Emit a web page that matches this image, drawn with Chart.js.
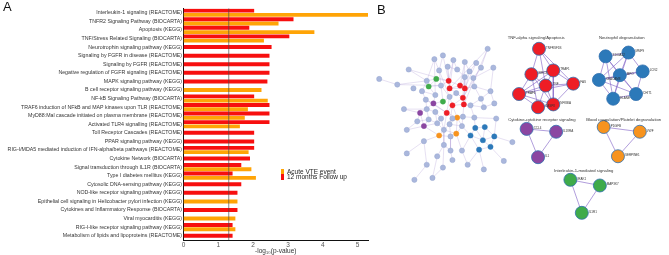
<!DOCTYPE html>
<html>
<head>
<meta charset="utf-8">
<script src="https://cdn.jsdelivr.net/npm/chart.js@4.4.0/dist/chart.umd.min.js"></script>
<style>
  body { margin:0; width:669px; height:255px; position:relative; background:#fff; overflow:hidden;
         font-family:"Liberation Sans", Arial, sans-serif; }
  #chartA { position:absolute; left:0; top:0; }
  #chartB { position:absolute; left:370px; top:0; }
  .panel { position:absolute; font-size:13px; color:#111; line-height:13px; }
  #legend { position:absolute; left:281px; top:169px; font-size:6.5px; color:#222; line-height:5.3px; }
  #legend div { white-space:nowrap; }
  #legend span { display:inline-block; width:3px; height:5.3px; margin-right:3px; vertical-align:top; }
</style>
</head>
<body>
<canvas id="chartA" width="370" height="255"></canvas>
<canvas id="chartB" width="299" height="255"></canvas>
<div class="panel" style="left:3px;top:0px">A</div>
<div class="panel" style="left:377px;top:3px">B</div>
<div id="legend"></div>
<script>
// ---- panel A: enrichment bars ----
var pathways = [
  "Interleukin-1 signaling (REACTOME)",
  "TNFR2 Signaling Pathway (BIOCARTA)",
  "Apoptosis (KEGG)",
  "TNF/Stress Related Signaling (BIOCARTA)",
  "Neurotrophin signaling pathway (KEGG)",
  "Signaling by FGFR in disease (REACTOME)",
  "Signaling by FGFR (REACTOME)",
  "Negative regulation of FGFR signaling (REACTOME)",
  "MAPK signaling pathway (KEGG)",
  "B cell receptor signaling pathway (KEGG)",
  "NF-kB Signaling Pathway (BIOCARTA)",
  "TRAF6 induction of NFkB and MAP kinases upon TLR (REACTOME)",
  "MyD88:Mal cascade initiated on plasma membrane (REACTOME)",
  "Activated TLR4 signalling (REACTOME)",
  "Toll Receptor Cascades (REACTOME)",
  "PPAR signaling pathway (KEGG)",
  "RIG-I/MDA5 mediated induction of IFN-alpha/beta pathways (REACTOME)",
  "Cytokine Network (BIOCARTA)",
  "Signal transduction through IL1R (BIOCARTA)",
  "Type I diabetes mellitus (KEGG)",
  "Cytosolic DNA-sensing pathway (KEGG)",
  "NOD-like receptor signaling pathway (KEGG)",
  "Epithelial cell signaling in Helicobacter pylori infection (KEGG)",
  "Cytokines and Inflammatory Response (BIOCARTA)",
  "Viral myocarditis (KEGG)",
  "RIG-I-like receptor signaling pathway (KEGG)",
  "Metabolism of lipids and lipoproteins (REACTOME)"
];
var followUp = [2.03,3.16,1.89,3.04,2.53,2.47,2.47,2.47,2.41,null,2.03,2.47,2.47,2.47,2.03,2.03,2.03,1.91,1.66,1.41,1.66,1.55,null,1.55,null,1.41,1.41];
var acute    = [5.3,2.73,3.76,2.31,null,null,null,null,null,2.24,2.42,1.85,1.76,1.62,null,null,1.87,null,1.95,2.08,null,null,1.55,null,1.49,1.49,null];
var xTicks = [0,1,2,3,4,5];
var threshold = 1.3;

var RED = "#f70f0f", ORANGE = "#ffa406";

var thresholdLine = {
  id: "thresholdLine",
  afterDatasetsDraw: function(chart) {
    var ctx = chart.ctx, a = chart.chartArea;
    var x = chart.scales.x.getPixelForValue(threshold);
    ctx.save();
    ctx.strokeStyle = "rgba(70,70,70,0.65)";
    ctx.lineWidth = 1;
    ctx.beginPath();
    ctx.moveTo(x, a.top); ctx.lineTo(x, a.bottom);
    ctx.stroke();
    ctx.restore();
  }
};

var chartA = new Chart(document.getElementById("chartA"), {
  type: "bar",
  data: {
    labels: pathways,
    datasets: [
      { label: "12 months Follow up", data: followUp, backgroundColor: RED, skipNull: true },
      { label: "Acute VTE event", data: acute, backgroundColor: ORANGE, skipNull: true }
    ]
  },
  options: {
    indexAxis: "y",
    responsive: false,
    animation: false,
    barPercentage: 0.9,
    categoryPercentage: 1,
    maxBarThickness: 4,
    layout: { padding: { top: 8.5, right: 2, bottom: 0, left: 0 } },
    plugins: { legend: { display: false }, tooltip: { enabled: false } },
    scales: {
      x: {
        min: 0, max: 5.3,
        afterBuildTicks: function(s) { s.ticks = xTicks.map(function(v){ return { value: v }; }); },
        afterFit: function(s) { s.height = 15; },
        grid: { display: false, drawTicks: false },
        border: { color: "#111", width: 1 },
        ticks: { color: "#555", font: { size: 6.5, family: "Liberation Sans" }, padding: 1.5 },
        title: { display: true, text: "-log\u2081\u2080(p-value)", color: "#333",
                 font: { size: 6.5, family: "Liberation Sans" }, padding: { top: 0, bottom: 0 } }
      },
      y: {
        afterFit: function(s) { s.width = 183.5; },
        grid: { display: false, drawTicks: false },
        border: { color: "#111", width: 1 },
        ticks: { autoSkip: false, color: "#333", padding: 1.5,
                 font: { size: 5.25, family: "Liberation Sans" } }
      }
    }
  },
  plugins: [thresholdLine]
});

// html legend from the datasets (orange first, as in the figure)
var leg = document.getElementById("legend");
chartA.data.datasets.slice().reverse().forEach(function(d) {
  var row = document.createElement("div");
  row.innerHTML = '<span style="background:' + d.backgroundColor + '"></span>' + d.label;
  leg.appendChild(row);
});

// ---- panel B: interaction network (layout positions) ----
var netX = [486,439,430,450,462,474,492,479,403,435,
            444,454,467,372,391,408,422,432,424,445,
            457,446,462,437,471,462,417,431,472,489,
            479,460,453,446,439,429,421,449,461,468,
            482,493,398,422,415,443,431,454,437,449,
            460,472,495,412,424,433,446,459,419,401,
            473,483,440,435,453,447,468,481,493,489,
            477,419,440,401,447,459,433,449,465,482,
            422,439,409,428,512,503];
var netY = [44,51,55,56,58,59,64,64,66,67,
            63,66,68,76,82,86,78,76,84,78,
            83,86,86,83,75,74,89,93,84,89,
            97,96,91,95,100,102,98,104,103,104,
            106,102,108,108,112,112,111,117,118,118,
            116,117,118,121,119,123,124,126,126,130,
            128,127,130,136,134,137,136,141,137,148,
            151,142,146,155,152,152,158,162,167,172,
            167,170,183,181,143,163];
var netGroup = ["L","L","L","L","L","L","L","L","L","L",
                "L","L","L","L","L","L","L","G","G","R",
                "R","R","R","L","L","L","L","L","L","L",
                "L","R","L","L","G","P","L","R","R","L",
                "L","L","L","L","P","R","L","O","L","L",
                "L","L","L","L","L","L","L","L","P","L",
                "B","B","L","O","O","L","B","B","B","B",
                "B","L","L","L","L","L","L","L","L","L",
                "L","L","L","L","L","L"];
var netEdges = [[13,14],[14,16],[14,23],[8,16],[8,19],[16,17],[16,26],[17,18],[17,19],[18,27],[18,23],
  [19,20],[19,21],[19,10],[19,23],[20,22],[20,21],[20,25],[21,22],[21,31],[22,28],[22,38],[1,9],[1,19],
  [2,9],[2,27],[3,11],[3,21],[4,20],[4,12],[5,12],[5,22],[0,7],[0,21],[0,38],[6,29],[6,24],[7,24],[7,31],
  [9,23],[10,11],[11,25],[12,25],[24,28],[25,22],[26,36],[27,35],[23,34],[26,27],[28,29],[28,30],[29,30],
  [30,39],[31,32],[31,37],[31,38],[32,33],[33,34],[33,37],[34,35],[35,36],[35,44],[35,45],[36,43],[37,38],
  [37,45],[37,47],[38,39],[38,50],[39,40],[40,41],[41,29],[42,44],[42,43],[43,46],[44,58],[44,53],[45,48],
  [45,49],[45,47],[46,48],[46,55],[47,49],[47,57],[47,64],[48,62],[49,56],[50,51],[50,57],[51,60],[51,52],
  [52,68],[53,54],[54,55],[55,62],[56,65],[57,64],[58,59],[58,63],[58,55],[60,61],[60,66],[60,67],[61,68],
  [61,67],[66,67],[66,70],[67,68],[67,69],[68,69],[69,70],[70,79],[70,78],[62,63],[63,71],[62,72],[64,65],
  [65,74],[64,75],[71,73],[71,80],[72,76],[72,81],[74,77],[75,78],[76,83],[80,82],[81,83],[84,68],[85,69],
  [62,64],[63,65],[72,74],[45,62],[37,56],[33,45],[36,45],[23,33],[9,33],[10,21],[4,31],[12,31],[2,16],
  [3,19],[24,31],[30,40],[39,51],[49,50],[56,57],[54,58],[53,59],[43,54],[57,66],[75,66],[56,62]];

// functional clusters (MCODE components)
var cluX = [540,532,555,547,576,519,555,539, 610,634,649,625,603,642,618, 527,558,539, 608,646,623, 573,604,585];
var cluY = [44,71,67,83,81,92,103,106, 52,48,68,72,77,92,97, 129,132,159, 127,132,158, 183,189,218];
var cluGroup = ["R","R","R","R","R","R","R","R","B","B","B","B","B","B","B","P","P","P","O","O","O","G","G","G"];
var cluLabel = ["TNFRSF1B","BIRC3","TRAF1","TNF","FAS","TRAF6","NFKBIA","CASP8",
                "S100A12","MMP9","LCN2","MPO","CEACAM8","CHIT1","ELANE",
                "CCL4","IL18RA","IL1","PDGFB","VWF","SERPINE1","IRAK1","MAP3K7","IL1R1"];
var cluEdges = [[0,1],[0,2],[0,3],[0,4],[1,2],[1,3],[1,5],[1,6],[1,7],[2,3],[2,4],[2,5],[2,6],[3,4],[3,5],
  [3,6],[3,7],[4,5],[4,6],[5,6],[5,7],[6,7],
  [8,9],[8,11],[8,12],[8,13],[8,14],[9,10],[9,11],[9,12],[9,14],[10,11],[10,12],[10,13],[11,12],[11,13],
  [11,14],[12,13],[12,14],[13,14],
  [15,16],[15,17],[16,17],[18,19],[18,20],[19,20],[21,22],[21,23],[22,23]];
var cluTitles = ["TNF-alpha signaling/Apoptosis","Neutrophil degranulation","Cytokine-cytokine receptor signaling",
                 "Blood coagulation/Platelet degranulation","Interleukin-1-mediated signaling"];
var cluTitleX = [537,627,543,629,587];
var cluTitleY = [32,32,119,119,173];

var fillOf = { L:"#aab7dc", R:"#ee1d25", G:"#3fab4a", P:"#8b46a1", O:"#f7931e", B:"#2c79b9" };

var dsB = [];
netEdges.forEach(function(e) {
  dsB.push({ data: [{x:netX[e[0]], y:netY[e[0]]}, {x:netX[e[1]], y:netY[e[1]]}], showLine: true,
             borderColor: "rgba(170,150,210,0.5)", borderWidth: 0.6, pointRadius: 0, order: 2 });
});
cluEdges.forEach(function(e) {
  dsB.push({ data: [{x:cluX[e[0]], y:cluY[e[0]]}, {x:cluX[e[1]], y:cluY[e[1]]}], showLine: true,
             borderColor: "rgba(130,100,200,0.7)", borderWidth: 0.9, pointRadius: 0, order: 2 });
});
Object.keys(fillOf).forEach(function(g) {
  var pts = [];
  netX.forEach(function(x, i) { if (netGroup[i] === g) pts.push({x:x, y:netY[i]}); });
  dsB.push({ data: pts, pointRadius: 2.6, backgroundColor: fillOf[g],
             borderColor: g === "L" ? "#97a6d0" : fillOf[g], borderWidth: 0.5, order: 1 });
});
Object.keys(fillOf).forEach(function(g) {
  var pts = [];
  cluX.forEach(function(x, i) { if (cluGroup[i] === g) pts.push({x:x, y:cluY[i], name:cluLabel[i]}); });
  if (!pts.length) return;
  dsB.push({ data: pts, pointRadius: 6.5, backgroundColor: fillOf[g], borderColor: "#2f6fae",
             borderWidth: 0.8, order: 0, isCluster: true });
});

var netText = {
  id: "netText",
  afterDraw: function(chart) {
    var ctx = chart.ctx, sx = chart.scales.x, sy = chart.scales.y;
    ctx.save();
    ctx.fillStyle = "#333";
    ctx.textBaseline = "middle";
    ctx.font = "3px Liberation Sans";
    chart.data.datasets.forEach(function(d, di) {
      if (!d.isCluster) return;
      chart.getDatasetMeta(di).data.forEach(function(el, i) {
        ctx.fillText(d.data[i].name, el.x + 7, el.y - 1);
      });
    });
    ctx.font = "4.2px Liberation Sans";
    ctx.textAlign = "center";
    cluTitles.forEach(function(t, i) {
      ctx.fillText(t, sx.getPixelForValue(cluTitleX[i]), sy.getPixelForValue(cluTitleY[i]));
    });
    ctx.restore();
  }
};

new Chart(document.getElementById("chartB"), {
  type: "scatter",
  data: { datasets: dsB },
  options: {
    responsive: false,
    animation: false,
    clip: false,
    layout: { padding: 0 },
    plugins: { legend: { display: false }, tooltip: { enabled: false } },
    scales: {
      x: { type: "linear", display: false, min: 370, max: 669 },
      y: { type: "linear", display: false, min: 0, max: 255, reverse: true }
    }
  },
  plugins: [netText]
});
</script>
</body>
</html>
